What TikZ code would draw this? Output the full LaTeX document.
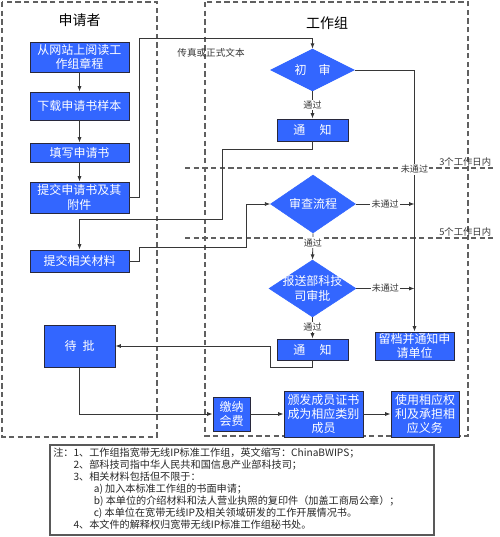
\documentclass[tikz,border=0pt]{standalone}
\usepackage{fontspec}
\setmainfont{Noto Sans CJK SC}
\usetikzlibrary{shapes.geometric,arrows.meta}
\definecolor{boxblue}{RGB}{51,102,255}
\definecolor{edge}{RGB}{40,40,60}
\definecolor{wire}{RGB}{55,55,55}
\tikzset{
  box/.style={draw=edge, line width=0.7pt, fill=boxblue, text=white, inner sep=0pt, align=center, font=\fontsize{9}{10.8}\selectfont},
  dia/.style={diamond, draw=boxblue, fill=boxblue, inner sep=0pt},
  wtext/.style={text=white, align=center, font=\fontsize{9}{11}\selectfont},
  line/.style={draw=wire, line width=0.6pt},
  arr/.style={line, -{Latex[length=4pt,width=3pt]}},
  lbl/.style={fill=white, inner sep=0.8pt, text=wire, font=\fontsize{6.8}{8}\selectfont},
  lane/.style={draw=gray!75!black, line width=0.8pt, dash pattern=on 4pt off 2.5pt},
  title/.style={font=\fontsize{10.5}{12}\selectfont},
}

\begin{document}
\begin{tikzpicture}[x=0.75pt, y=-0.75pt]
\useasboundingbox (0,0) rectangle (500,537);

\draw[lane] (2,2) rectangle (157,437);
\draw[lane] (205,2) rectangle (468,436);
\node[title] (applicant) at (79.5,20) {申请者};
\node[title] (group) at (327,23) {工作组};

\draw[lane] (185,168) -- (493,168) node[above left, inner sep=1pt, text=wire, font=\fontsize{7}{8}\selectfont] (day3) {3个工作日内};
\draw[lane] (185,238) -- (493,238) node[above left, inner sep=1pt, text=wire, font=\fontsize{7}{8}\selectfont] (day5) {5个工作日内};

\node[box, minimum width=99*0.75pt, minimum height=30*0.75pt] (read) at (79.5,57) {从网站上阅读工\\作组章程};
\node[box, minimum width=99*0.75pt, minimum height=28*0.75pt] (download) at (79.5,106) {下载申请书样本};
\node[box, minimum width=99*0.75pt, minimum height=19*0.75pt] (fill) at (79.5,152.5) {填写申请书};
\node[box, minimum width=99*0.75pt, minimum height=31*0.75pt] (submit) at (79.5,197.5) {提交申请书及其\\附件};
\node[box, minimum width=99*0.75pt, minimum height=22*0.75pt] (material) at (79.5,261) {提交相关材料};
\node[box, minimum width=71*0.75pt, minimum height=42*0.75pt] (wait) at (79.5,346) {待\hspace{0.5em}批};

\node[dia, minimum width=84*0.75pt, minimum height=42*0.75pt] (check) at (312.5,70) {};
\node[wtext] (checkt) at (check) {初\hspace{1em}审};
\node[box, minimum width=71*0.75pt, minimum height=22*0.75pt] (notice) at (312.5,130) {通\hspace{1.2em}知};
\node[dia, minimum width=85*0.75pt, minimum height=58*0.75pt] (review) at (313,204) {};
\node[wtext] (reviewt) at (review) {审查流程};
\node[dia, minimum width=87*0.75pt, minimum height=57*0.75pt] (report) at (312.5,288.5) {};
\node[wtext, font=\fontsize{9}{11.3}\selectfont] (reportt) at (report) {报送部科技\\司审批};
\node[box, minimum width=71*0.75pt, minimum height=21*0.75pt] (approved) at (312.5,349.5) {通\hspace{1.2em}知};
\node[box, minimum width=79*0.75pt, minimum height=28*0.75pt] (archive) at (414.5,346) {留档并通知申\\请单位};

\node[box, minimum width=37*0.75pt, minimum height=34*0.75pt] (fee) at (231.5,414) {缴纳\\会费};
\node[box, minimum width=79*0.75pt, minimum height=46*0.75pt] (cert) at (323.5,414) {颁发成员证书\\成为相应类别\\成员};
\node[box, minimum width=68*0.75pt, minimum height=46*0.75pt] (rights) at (425,414) {使用相应权\\利及承担相\\应义务};

\coordinate (b1) at (139,38);
\coordinate (b2) at (222,219);
\coordinate (b3) at (246,247);
\coordinate (b4) at (270,346);

\draw[arr] (read) -- (download);
\draw[arr] (download) -- (fill);
\draw[arr] (fill) -- (submit);
\draw[arr] (submit.east) -| (b1) -| (check.north);
\node[lbl, fill=none, font=\fontsize{7.2}{8}\selectfont] (fax) at (211,53) {传真或正式文本};
\draw[arr] (check.south) -- node[lbl] {通过} (notice.north);
\draw[arr] (notice.south) -- ++(0,8) -| (b2) -| (material.north);
\draw[arr] (material.east) -- ++(10,0) |- (b3) |- (review.west);
\draw[arr] (check.east) -| node[lbl, pos=0.69] {未通过} (archive.north);
\draw[arr] (review.east) -- node[lbl] {未通过} (review.east -| archive.north);
\draw[arr] (review.south) -- node[lbl, pos=0.35] {通过} (report.north);
\draw[arr] (report.east) -- node[lbl] {未通过} (report.east -| archive.north);
\draw[arr] (report.south) -- node[lbl, pos=0.45] {通过} (approved.north);
\draw[arr] (approved.south) -- ++(0,7) -| (b4) -- (wait.east);
\draw[arr] (wait.south) |- (fee.west);
\draw[arr] (fee) -- (cert);
\draw[arr] (cert) -- (rights);

\draw[draw=gray!70!black, line width=0.8pt] (50,445) rectangle (434,535);
\node[anchor=north west, align=left, inner sep=0pt, text=black!85, font=\fontsize{7.6}{9}\selectfont] (notes) at (53,448) {注：1、工作组指宽带无线IP标准工作组，英文缩写：ChinaBWIPS；\\
\hspace*{2em}2、部科技司指中华人民共和国信息产业部科技司；\\
\hspace*{2em}3、相关材料包括但不限于：\\
\hspace*{4em}a) 加入本标准工作组的书面申请；\\
\hspace*{4em}b) 本单位的介绍材料和法人营业执照的复印件（加盖工商局公章）；\\
\hspace*{4em}c) 本单位在宽带无线IP及相关领域研发的工作开展情况书。\\
\hspace*{2em}4、本文件的解释权归宽带无线IP标准工作组秘书处。};
\end{tikzpicture}
\end{document}
